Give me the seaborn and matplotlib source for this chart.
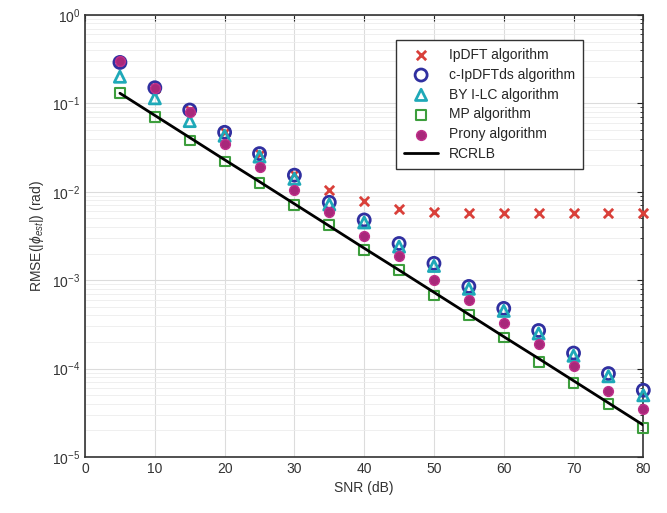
import numpy as np
import pandas as pd
import matplotlib
matplotlib.use("Agg")
import matplotlib.pyplot as plt
import seaborn as sns

snr = [5, 10, 15, 20, 25, 30, 35, 40, 45, 50, 55, 60, 65, 70, 75, 80]

ipdft = [0.29, 0.15, 0.085, 0.047, 0.027, 0.016, 0.0104, 0.0078, 0.0064,
         0.0059, 0.0058, 0.0058, 0.0058, 0.0058, 0.0058, 0.0058]
c_ipdftds = [0.29, 0.15, 0.084, 0.047, 0.027, 0.0154, 0.0076, 0.0048, 0.0026,
             0.00155, 8.5e-4, 4.8e-4, 2.7e-4, 1.5e-4, 8.8e-5, 5.7e-5]
byilc = [0.20, 0.114, 0.063, 0.043, 0.025, 0.0140, 0.0072, 0.0045, 0.0024,
         0.00145, 8.0e-4, 4.5e-4, 2.5e-4, 1.4e-4, 8.2e-5, 5.0e-5]
mp = [0.13, 0.070, 0.038, 0.022, 0.0126, 0.0071, 0.0042, 0.0022, 0.0013,
      6.7e-4, 4.0e-4, 2.25e-4, 1.2e-4, 6.9e-5, 4.0e-5, 2.15e-5]
prony = [0.30, 0.15, 0.080, 0.035, 0.019, 0.0104, 0.0059, 0.0032, 0.0019,
         0.0010, 5.9e-4, 3.3e-4, 1.9e-4, 1.07e-4, 5.6e-5, 3.5e-5]
rcrlb = [0.13, 0.073, 0.041, 0.023, 0.013, 0.0073, 0.0041, 0.0023, 0.0013,
         7.3e-4, 4.1e-4, 2.3e-4, 1.3e-4, 7.3e-5, 4.1e-5, 2.3e-5]

df = pd.DataFrame({"snr": snr, "ipdft": ipdft, "c_ipdftds": c_ipdftds,
                   "byilc": byilc, "mp": mp, "prony": prony, "rcrlb": rcrlb})

sns.set_style("white")
plt.rcParams["font.family"] = ["Liberation Sans", "DejaVu Sans"]
plt.rcParams["font.size"] = 10
plt.rcParams["mathtext.fontset"] = "custom"
plt.rcParams["mathtext.rm"] = "Liberation Sans"
plt.rcParams["mathtext.it"] = "Liberation Sans:italic"

fig = plt.figure(figsize=(6.67, 5.13), dpi=100)
ax = fig.add_axes([0.1275, 0.109, 0.837, 0.862])

# markers are not clipped at the axes edge (MATLAB style)
sns.scatterplot(data=df, x="snr", y="ipdft", ax=ax, marker="x", s=45,
                color="#d9403a", linewidth=2, label="IpDFT algorithm",
                zorder=3, clip_on=False)
sns.scatterplot(data=df, x="snr", y="c_ipdftds", ax=ax, marker="o", s=75,
                facecolor="none", edgecolor="#3030a0", linewidth=2,
                label="c-IpDFTds algorithm", zorder=3, clip_on=False)
sns.scatterplot(data=df, x="snr", y="byilc", ax=ax, marker="^", s=65,
                facecolor="none", edgecolor="#1fa9b8", linewidth=2,
                label="BY I-LC algorithm", zorder=3, clip_on=False)
sns.scatterplot(data=df, x="snr", y="mp", ax=ax, marker="s", s=50,
                facecolor="none", edgecolor="#3d9e3d", linewidth=1.5,
                label="MP algorithm", zorder=3, clip_on=False)
sns.scatterplot(data=df, x="snr", y="prony", ax=ax, marker="o", s=50,
                color="#a8287a", edgecolor="#c0308a", linewidth=1,
                label="Prony algorithm", zorder=4, clip_on=False)
sns.lineplot(data=df, x="snr", y="rcrlb", ax=ax, color="black", linewidth=2,
             label="RCRLB", zorder=5)

ax.set_yscale("log")
ax.set_xlim(0, 80)
ax.set_ylim(1e-5, 1)
ax.set_xticks(range(0, 81, 10))
ax.set_yticks([1e-5, 1e-4, 1e-3, 1e-2, 1e-1, 1])

ax.grid(True, which="major", color="#dcdcdc", linewidth=0.8)
ax.grid(True, which="minor", axis="y", color="#ececec", linewidth=0.6)
ax.tick_params(which="both", direction="in", top=True, right=True,
               labelsize=10, colors="#222222", labelcolor="#333333")
ax.tick_params(which="major", length=4)
ax.tick_params(which="minor", length=2)
for sp in ax.spines.values():
    sp.set_color("#333333")
    sp.set_linewidth(1.2)

ax.set_xlabel("SNR (dB)", fontsize=10, color="#333333")
ax.set_ylabel(r"RMSE(|$\phi_{est}$|) (rad)", fontsize=10, color="#333333")

leg = ax.legend(loc="upper right", bbox_to_anchor=(0.905, 0.96), fontsize=10,
                frameon=True, fancybox=False, framealpha=1, edgecolor="#333333",
                handlelength=2.4, borderpad=0.6, labelspacing=0.42)
leg.get_frame().set_linewidth(1.0)

plt.savefig("out.png", dpi=100)
plt.close()
